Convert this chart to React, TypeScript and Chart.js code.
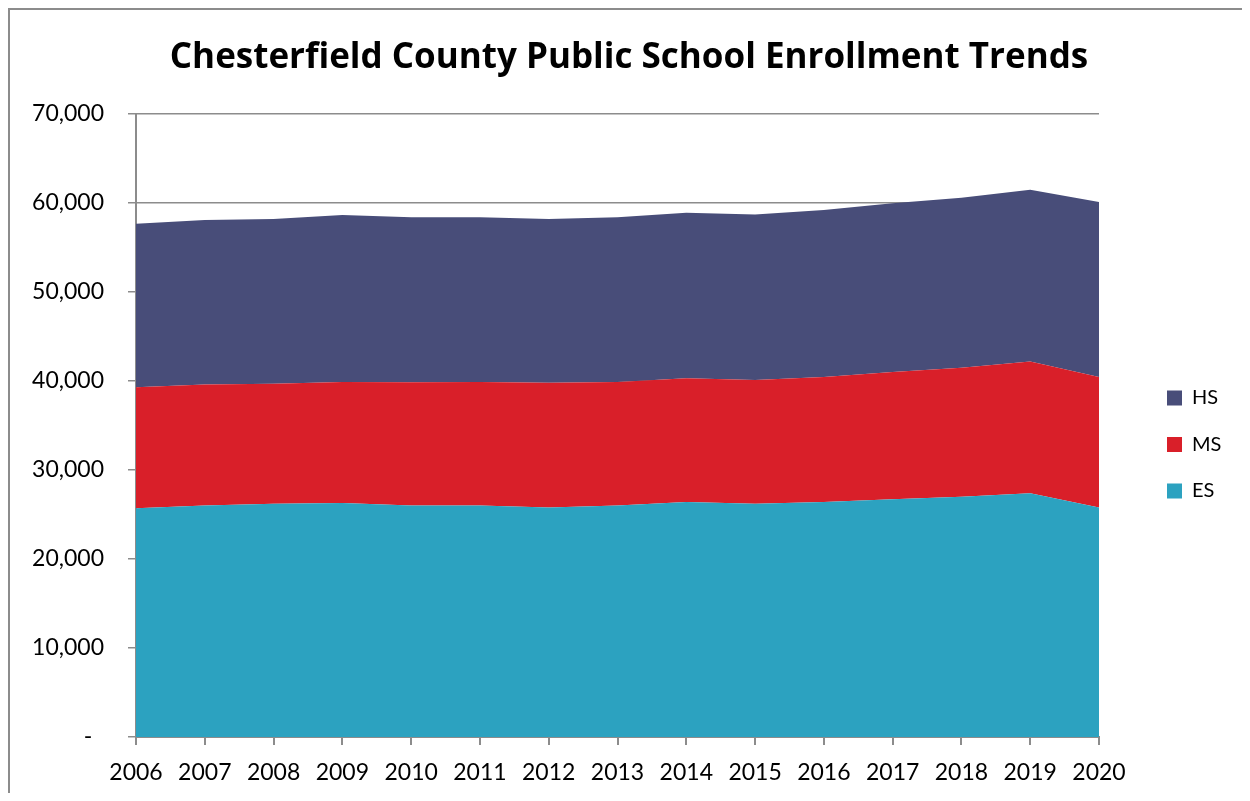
import React, { useEffect, useRef } from 'react';
import { Chart, registerables } from 'chart.js';

Chart.register(...registerables);

const years = ['2006', '2007', '2008', '2009', '2010', '2011', '2012', '2013', '2014', '2015', '2016', '2017', '2018', '2019', '2020'];
const esValues = [25700, 26000, 26200, 26300, 26000, 26000, 25800, 26000, 26400, 26200, 26400, 26700, 27000, 27400, 25800];
const msValues = [13600, 13600, 13500, 13600, 13850, 13900, 14000, 13900, 13900, 13900, 14050, 14300, 14500, 14800, 14650];
const hsValues = [18380, 18500, 18500, 18750, 18550, 18500, 18400, 18500, 18600, 18600, 18750, 18960, 19100, 19300, 19650];
const seriesNames = ['ES', 'MS', 'HS'];
const seriesColors = ['#2CA2C0', '#D91F29', '#484D79'];
const titleText = 'Chesterfield County Public School Enrollment Trends';

const FONT = 'Lato';
const TITLE_FONT = 'Open Sans';
const GRAY = '#8c8c8c';
const LEGEND_W = 101.5;

export default function App() {
  const ref = useRef<HTMLCanvasElement>(null);

  useEffect(() => {
    if (!ref.current) return;
    const seriesData = [esValues, msValues, hsValues];
    const chart = new Chart(ref.current, {
      type: 'line',
      data: {
        labels: years,
        datasets: seriesNames.map((name, i) => ({
          label: name,
          data: seriesData[i],
          backgroundColor: seriesColors[i],
          borderColor: seriesColors[i],
          borderWidth: 0,
          pointRadius: 0,
          pointHoverRadius: 0,
          tension: 0,
          fill: i === 0 ? 'origin' : '-1',
        })),
      },
      options: {
        responsive: false,
        animation: false,
        devicePixelRatio: 1,
        layout: { padding: { left: 6, right: 0, top: 0, bottom: 0 } },
        plugins: {
          tooltip: { enabled: false },
          title: {
            display: true,
            text: titleText,
            color: '#000',
            font: { family: TITLE_FONT, size: 35, weight: 'bold' },
            padding: { top: 27.4, bottom: 34.6 },
          },
          legend: {
            display: true,
            position: 'right',
            align: 'center',
            reverse: true,
            title: { display: true, text: '', font: { size: 10 }, padding: { top: 74, bottom: 0 } },
            labels: {
              boxWidth: 15,
              boxHeight: 15,
              padding: 26.5,
              color: '#000',
              font: { family: FONT, size: 20 },
            },
          },
        },
        scales: {
          x: {
            type: 'category',
            offset: false,
            grid: { drawOnChartArea: false, drawTicks: true, tickLength: 8, color: GRAY, lineWidth: 2 },
            border: { display: true, color: GRAY, width: 2 },
            ticks: {
              color: '#000',
              font: { family: FONT, size: 23 },
              padding: 14,
              maxRotation: 0,
              autoSkip: false,
            },
            afterFit: (s: any) => { s.height = 56; },
          },
          y: {
            type: 'linear',
            stacked: true,
            min: 0,
            max: 70000,
            grid: { color: GRAY, lineWidth: 1.5, tickLength: 8, drawTicks: true },
            border: { display: true, color: GRAY, width: 2 },
            ticks: {
              stepSize: 10000,
              color: '#000',
              padding: 24,
              font: { family: FONT, size: 23 },
              callback: (v: any) => (Number(v) === 0 ? '-  ' : Number(v).toLocaleString('en-US')),
            },
            afterFit: (s: any) => { s.width = 120; },
          },
          y2: {
            type: 'linear',
            position: 'right',
            display: true,
            grid: { display: false, drawTicks: false },
            border: { display: false },
            ticks: { display: false },
            afterFit: (s: any) => { s.width = 41.5; },
          },
        },
      },
    } as any);

    const lg: any = (chart as any).legend;
    if (lg) {
      const orig = lg.fit.bind(lg);
      lg.fit = function () {
        orig();
        this.width = LEGEND_W;
      };
      chart.update();
    }
    return () => chart.destroy();
  }, []);

  return (
    <div
      style={{
        width: 1234,
        height: 785,
        borderTop: `2px solid ${GRAY}`,
        borderLeft: `2px solid ${GRAY}`,
        boxSizing: 'border-box',
      }}
    >
      <canvas ref={ref} width={1232} height={783} style={{ display: 'block' }} />
    </div>
  );
}
